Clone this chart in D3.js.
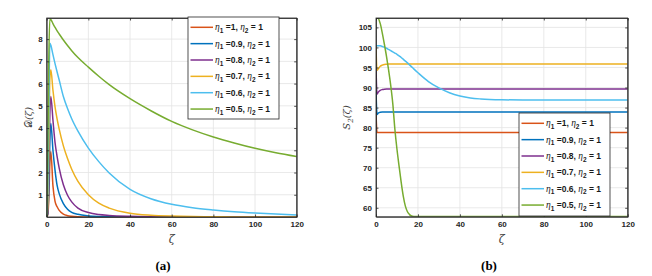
<!DOCTYPE html>
<html>
<head>
<meta charset="utf-8">
<script src="https://cdn.jsdelivr.net/npm/d3@7"></script>
<style>
  body { margin: 0; background: #fff; }
  svg { display: block; }
  .tick text { font-family: "Liberation Sans", Arial, sans-serif; font-size: 8px; font-weight: bold; fill: #262626; }
</style>
</head>
<body>
<div id="chart"></div>
<script>
/* global d3 */

// legend labels (eta_1 values, eta_2 = 1 everywhere)
var etaLabels = ['1', '0.9', '0.8', '0.7', '0.6', '0.5']

// panel (a): D(zeta)
var zetaA = [0, 0.5, 1, 1.5, 2, 3, 4, 5, 6, 8, 10, 12, 15, 20, 25, 30, 40, 50, 60, 70, 80, 90, 100, 110, 120]
var dEta10 = [0, 0.1, 0.8, 2.4, 2.95, 1.4, 0.7, 0.46, 0.3, 0.13, 0.06, 0.03, 0.01, 0, 0, 0, 0, 0, 0, 0, 0, 0, 0, 0, 0]
var dEta09 = [0, 0.15, 1.2, 3.4, 4.2, 3.0, 2.1, 1.42, 1.05, 0.6, 0.35, 0.21, 0.12, 0.05, 0.02, 0.01, 0, 0, 0, 0, 0, 0, 0, 0, 0]
var dEta08 = [0, 0.2, 1.8, 4.6, 5.42, 4.35, 3.35, 2.72, 2.2, 1.45, 0.98, 0.68, 0.4, 0.2, 0.11, 0.07, 0.03, 0.01, 0, 0, 0, 0, 0, 0, 0]
var dEta07 = [0, 0.4, 3.0, 6.2, 6.62, 5.7, 4.95, 4.4, 3.95, 3.2, 2.63, 2.15, 1.6, 1.0, 0.62, 0.4, 0.17, 0.08, 0.04, 0.02, 0.01, 0, 0, 0, 0]
var dEta06 = [0, 1.0, 4.5, 7.82, 7.72, 7.3, 6.9, 6.52, 6.16, 5.42, 4.88, 4.42, 3.86, 3.1, 2.49, 1.98, 1.24, 0.82, 0.57, 0.42, 0.32, 0.24, 0.18, 0.13, 0.09]
var dEta05 = [0, 2.5, 7.0, 8.9, 8.88, 8.7, 8.53, 8.37, 8.23, 7.96, 7.71, 7.48, 7.17, 6.74, 6.33, 5.95, 5.32, 4.78, 4.3, 3.92, 3.6, 3.33, 3.09, 2.89, 2.72]
var ticksXA = [0, 20, 40, 60, 80, 100, 120]
var ticksYA = [1, 2, 3, 4, 5, 6, 7, 8]

// panel (b): S_2(zeta)
var zetaB = [0, 0.5, 1, 2, 3, 4, 5, 6, 7, 8, 9, 10, 11, 12, 13, 14, 15, 16, 17, 18, 20, 25, 30, 35, 40, 45, 50, 60, 70, 80, 100, 120]
var sEta10 = [84, 78.8, 78.8, 78.8, 78.8, 78.8, 78.8, 78.8, 78.8, 78.8, 78.8, 78.8, 78.8, 78.8, 78.8, 78.8, 78.8, 78.8, 78.8, 78.8, 78.8, 78.8, 78.8, 78.8, 78.8, 78.8, 78.8, 78.8, 78.8, 78.8, 78.8, 78.8]
var sEta09 = [89.5, 83.3, 83.6, 83.85, 83.9, 83.9, 83.9, 83.9, 83.9, 83.9, 83.9, 83.9, 83.9, 83.9, 83.9, 83.9, 83.9, 83.9, 83.9, 83.9, 83.9, 83.9, 83.9, 83.9, 83.9, 83.9, 83.9, 83.9, 83.9, 83.9, 83.9, 83.9]
var sEta08 = [95.2, 88.4, 88.8, 89.3, 89.5, 89.6, 89.65, 89.65, 89.65, 89.65, 89.65, 89.65, 89.65, 89.65, 89.65, 89.65, 89.65, 89.65, 89.65, 89.65, 89.65, 89.65, 89.65, 89.65, 89.65, 89.65, 89.65, 89.65, 89.65, 89.65, 89.65, 89.65]
var sEta07 = [100.2, 94.3, 94.6, 95.3, 95.6, 95.75, 95.8, 95.85, 95.85, 95.85, 95.85, 95.85, 95.85, 95.85, 95.85, 95.85, 95.85, 95.85, 95.85, 95.85, 95.85, 95.85, 95.85, 95.85, 95.85, 95.85, 95.85, 95.85, 95.85, 95.85, 95.85, 95.85]
var sEta06 = [100.3, 100.45, 100.45, 100.4, 100.25, 100.05, 99.8, 99.5, 99.2, 98.9, 98.6, 98.3, 97.9, 97.5, 97.05, 96.6, 96.15, 95.65, 95.15, 94.65, 93.7, 91.5, 89.9, 88.7, 87.9, 87.4, 87.15, 86.95, 86.9, 86.9, 86.9, 86.9]
var sEta05 = [107.1, 107.35, 107.3, 106.0, 103.6, 100.8, 97.8, 94.4, 90.6, 86.0, 79.6, 74.6, 70.4, 66.4, 62.9, 60.4, 59.0, 58.3, 57.95, 57.85, 57.8, 57.8, 57.8, 57.8, 57.8, 57.8, 57.8, 57.8, 57.8, 57.8, 57.8, 57.8]
var ticksXB = [0, 20, 40, 60, 80, 100, 120]
var ticksYB = [60, 65, 70, 75, 80, 85, 90, 95, 100, 105]

var colors = ['#D95319', '#0072BD', '#7E2F8E', '#EDB120', '#4DBEEE', '#77AC30']

var width = 652, height = 276

var svg = d3.select('#chart')
  .append('svg')
  .attr('width', width)
  .attr('height', height)

function drawPanel (opt) {
  var x = d3.scaleLinear().domain(opt.xDomain).range([opt.left, opt.right])
  var y = d3.scaleLinear().domain(opt.yDomain).range([opt.bottom, opt.top])
  var g = svg.append('g')

  // grid
  g.append('g').selectAll('line')
    .data(opt.ticksX.slice(1, -1))
    .enter().append('line')
    .attr('x1', d => x(d)).attr('x2', d => x(d))
    .attr('y1', opt.top).attr('y2', opt.bottom)
    .style('stroke', '#e3e3e3').style('stroke-width', 0.8)
  g.append('g').selectAll('line')
    .data(opt.ticksY)
    .enter().append('line')
    .attr('x1', opt.left).attr('x2', opt.right)
    .attr('y1', d => y(d)).attr('y2', d => y(d))
    .style('stroke', '#e3e3e3').style('stroke-width', 0.8)

  // curves
  var clipId = 'clip-' + opt.name
  svg.append('clipPath').attr('id', clipId)
    .append('rect')
    .attr('x', opt.left).attr('y', opt.top)
    .attr('width', opt.right - opt.left).attr('height', opt.bottom - opt.top)

  var line = d3.line()
    .x(d => x(d[0]))
    .y(d => y(d[1]))
    .curve(d3.curveMonotoneX)

  g.append('g')
    .attr('clip-path', 'url(#' + clipId + ')')
    .selectAll('path')
    .data(opt.series)
    .enter().append('path')
    .attr('d', s => line(opt.zeta.map((z, i) => [z, s[i]])))
    .style('fill', 'none')
    .style('stroke', (s, i) => colors[i])
    .style('stroke-width', 1.5)

  // axes, ticks pointing inward on all four sides
  g.append('g')
    .attr('transform', 'translate(0,' + opt.bottom + ')')
    .call(d3.axisBottom(x).tickValues(opt.ticksX).tickSizeInner(-2.5).tickSizeOuter(0).tickPadding(4.5))
  g.append('g')
    .attr('transform', 'translate(' + opt.left + ',0)')
    .call(d3.axisLeft(y).tickValues(opt.ticksY).tickSizeInner(-2.5).tickSizeOuter(0).tickPadding(4))
  g.append('g')
    .attr('transform', 'translate(0,' + opt.top + ')')
    .call(d3.axisTop(x).tickValues(opt.ticksX).tickSizeInner(-2.5).tickSizeOuter(0).tickFormat(''))
  g.append('g')
    .attr('transform', 'translate(' + opt.right + ',0)')
    .call(d3.axisRight(y).tickValues(opt.ticksY).tickSizeInner(-2.5).tickSizeOuter(0).tickFormat(''))
  g.selectAll('.domain').style('stroke', '#262626').style('stroke-width', 0.8)
  g.selectAll('.tick line').style('stroke', '#262626').style('stroke-width', 0.8)

  g.append('rect')
    .attr('x', opt.left).attr('y', opt.top)
    .attr('width', opt.right - opt.left).attr('height', opt.bottom - opt.top)
    .style('fill', 'none').style('stroke', '#262626').style('stroke-width', 0.8)

  // axis labels
  g.append('text')
    .attr('x', (opt.left + opt.right) / 2)
    .attr('y', 243)
    .attr('text-anchor', 'middle')
    .style('font-family', '"DejaVu Serif", serif')
    .style('font-style', 'italic')
    .style('font-size', '11px')
    .style('fill', '#404040')
    .text('ζ')

  var yl = g.append('text')
    .attr('transform', 'translate(' + opt.yLabelX + ',' + ((opt.top + opt.bottom) / 2) + ') rotate(-90)')
    .attr('text-anchor', 'middle')
    .style('font-family', '"DejaVu Serif", serif')
    .style('font-style', 'italic')
    .style('font-size', '10px')
    .style('fill', '#404040')
  opt.yLabel(yl)

  // caption
  g.append('text')
    .attr('x', opt.captionX)
    .attr('y', 270)
    .attr('text-anchor', 'middle')
    .style('font-family', '"Liberation Serif", "Times New Roman", serif')
    .style('font-weight', 'bold')
    .style('font-size', '13px')
    .style('fill', '#000')
    .text(opt.caption)

  // legend
  var lg = g.append('g')
  lg.append('rect')
    .attr('x', opt.legend.x).attr('y', opt.legend.y)
    .attr('width', opt.legend.w).attr('height', opt.legend.h)
    .style('fill', '#fff').style('stroke', '#262626').style('stroke-width', 0.8)

  var rows = lg.selectAll('.row')
    .data(etaLabels)
    .enter().append('g')
    .attr('class', 'row')
    .attr('transform', (d, i) => 'translate(' + opt.legend.x + ',' + (opt.legend.y + 10.3 + i * 16.35) + ')')
  rows.append('line')
    .attr('x1', 2.5).attr('x2', 25)
    .style('stroke', (d, i) => colors[i])
    .style('stroke-width', 1.5)
  var t = rows.append('text')
    .attr('x', 27)
    .attr('y', 3)
    .style('font-family', '"Liberation Sans", Arial, sans-serif')
    .style('font-size', '8.5px')
    .style('font-weight', 'bold')
    .style('fill', '#1a1a1a')
  t.append('tspan').text('η').style('font-family', '"Liberation Serif", serif').style('font-style', 'italic').style('font-weight', 'normal').style('font-size', '9.5px')
  t.append('tspan').text('1').attr('dy', 2.5).style('font-size', '6.5px')
  t.append('tspan').text(d => ' =' + d + ', ').attr('dy', -2.5)
  t.append('tspan').text('η').style('font-family', '"Liberation Serif", serif').style('font-style', 'italic').style('font-weight', 'normal').style('font-size', '9.5px')
  t.append('tspan').text('2').attr('dy', 2.5).style('font-size', '6.5px')
  t.append('tspan').text(' = 1').attr('dy', -2.5)
}

drawPanel({
  name: 'a',
  left: 46.7, right: 296.7, top: 18, bottom: 217,
  xDomain: [0, 120], yDomain: [0, 8.95],
  ticksX: ticksXA, ticksY: ticksYA,
  zeta: zetaA,
  series: [dEta10, dEta09, dEta08, dEta07, dEta06, dEta05],
  yLabelX: 32,
  yLabel: t => {
    t.append('tspan').text('𝒟').style('font-style', 'normal')
    t.append('tspan').text('(ζ)')
  },
  caption: '(a)', captionX: 163,
  legend: {x: 188, y: 17, w: 91, h: 102}
})

drawPanel({
  name: 'b',
  left: 376, right: 627.7, top: 18, bottom: 216.8,
  xDomain: [0, 120], yDomain: [57.75, 107.35],
  ticksX: ticksXB, ticksY: ticksYB,
  zeta: zetaB,
  series: [sEta10, sEta09, sEta08, sEta07, sEta06, sEta05],
  yLabelX: 350,
  yLabel: t => {
    t.append('tspan').text('S')
    t.append('tspan').text('2').attr('dy', 2.5).style('font-size', '7px')
    t.append('tspan').text('(ζ)').attr('dy', -2.5)
  },
  caption: '(b)', captionX: 489,
  legend: {x: 519, y: 113, w: 91, h: 103}
})
</script>
</body>
</html>
